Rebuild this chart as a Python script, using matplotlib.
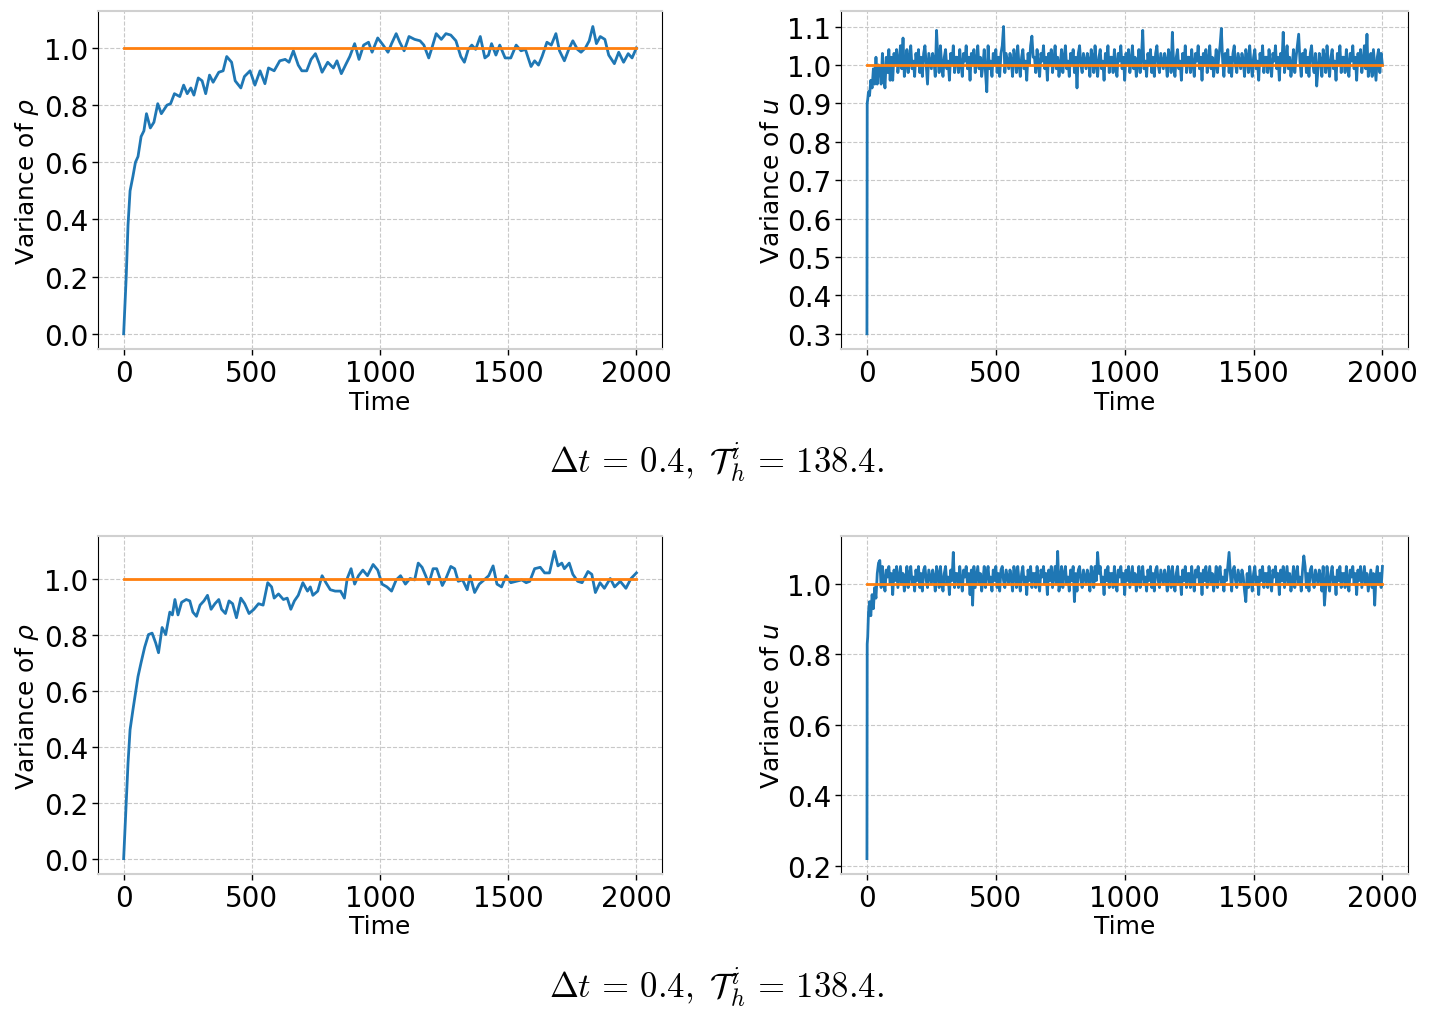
import numpy as np
import matplotlib
matplotlib.use("Agg")
import matplotlib.pyplot as plt

# --- top row: variance of rho ---
rho1_t = [0, 10, 17, 25, 36, 46, 56, 68, 79, 89, 104, 118, 133, 147, 169, 183, 198,
          219, 234, 248, 262, 274, 291, 306, 320, 335, 349, 371, 388, 402, 421, 435,
          457, 471, 493, 512, 532, 551, 565, 587, 609, 630, 645, 662, 681, 695, 714,
          731, 748, 763, 774, 796, 818, 832, 849, 868, 882, 901, 918, 936, 955, 969,
          991, 1012, 1031, 1045, 1063, 1077, 1094, 1113, 1135, 1156, 1171, 1190,
          1204, 1219, 1239, 1257, 1276, 1296, 1315, 1329, 1344, 1358, 1373, 1391,
          1409, 1423, 1435, 1452, 1467, 1488, 1510, 1531, 1550, 1567, 1589, 1603,
          1618, 1632, 1651, 1668, 1686, 1700, 1719, 1736, 1752, 1770, 1784, 1801,
          1816, 1830, 1844, 1859, 1877, 1892, 1914, 1931, 1950, 1968, 1983, 2000]
rho1_v = [0.0, 0.20, 0.38, 0.50, 0.55, 0.60, 0.62, 0.69, 0.71, 0.77, 0.72, 0.74, 0.805,
          0.77, 0.80, 0.805, 0.84, 0.83, 0.87, 0.84, 0.86, 0.835, 0.895, 0.885, 0.84,
          0.905, 0.88, 0.915, 0.92, 0.97, 0.95, 0.885, 0.86, 0.90, 0.92, 0.87, 0.92,
          0.875, 0.93, 0.92, 0.955, 0.96, 0.95, 0.99, 0.94, 0.92, 0.92, 0.96, 0.98,
          0.945, 0.915, 0.95, 0.93, 0.955, 0.91, 0.945, 0.97, 1.015, 0.96, 1.01, 1.02,
          0.985, 1.035, 1.01, 0.985, 1.015, 1.05, 1.02, 0.99, 1.04, 1.03, 1.025, 1.01,
          0.965, 1.005, 1.05, 1.03, 1.05, 1.045, 1.025, 0.97, 0.95, 0.995, 1.01, 0.995,
          1.04, 0.965, 0.975, 1.015, 0.975, 1.01, 0.965, 0.965, 1.01, 0.99, 0.995,
          0.935, 0.955, 0.94, 0.97, 1.02, 1.01, 1.05, 0.99, 0.955, 0.995, 1.025, 0.995,
          0.985, 1.0, 1.025, 1.075, 1.015, 1.04, 1.03, 0.975, 0.945, 0.985, 0.95, 0.98,
          0.965, 1.0]

# --- top row: variance of u (first 50 time units, then every 5) ---
u1_early_t = [0, 1, 3, 6, 10, 15, 20, 25, 30, 35, 40, 45]
u1_early_v = [0.30, 0.90, 0.91, 0.93, 0.92, 0.96, 0.94, 0.99, 0.95, 1.02, 0.95, 1.00]
u1_v = [
    0.99, 0.95, 1.03, 0.97, 0.94, 1.02, 0.98, 1.04, 0.96, 1.02, 0.96, 1.03, 1.00, 1.04, 0.98, 1.01, 1.05, 0.99, 1.07, 0.97,
    1.00, 1.04, 0.98, 1.02, 1.05, 0.99, 1.01, 0.97, 1.03, 1.00, 1.04, 0.98, 1.02, 0.97, 1.03, 1.05, 1.00, 0.95, 1.03, 1.01,
    0.99, 1.03, 1.01, 0.97, 1.09, 1.02, 0.98, 1.05, 1.00, 0.97, 1.02, 1.04, 0.99, 1.01, 0.96, 1.03, 1.00, 1.05, 0.98, 1.02,
    1.02, 0.98, 1.04, 1.00, 0.97, 1.03, 1.01, 1.05, 0.99, 1.02, 0.96, 1.03, 1.00, 1.04, 0.98, 1.01, 1.05, 0.99, 1.02, 0.97,
    1.00, 1.04, 0.98, 0.93, 1.05, 0.99, 1.01, 0.97, 1.03, 1.00, 1.04, 0.98, 1.02, 0.97, 1.03, 1.05, 1.10, 0.98, 1.03, 1.01,
    0.99, 1.03, 1.01, 0.97, 1.04, 1.02, 0.98, 1.05, 1.00, 0.97, 1.02, 1.04, 0.99, 1.01, 0.96, 1.03, 1.00, 1.05, 1.075, 1.02,
    1.02, 0.98, 1.04, 1.00, 0.97, 1.03, 1.01, 1.05, 0.99, 1.02, 0.96, 1.03, 1.00, 1.04, 0.98, 1.01, 1.05, 0.99, 1.02, 0.97,
    1.00, 1.04, 0.98, 1.02, 1.05, 0.99, 1.01, 0.97, 1.03, 1.00, 1.04, 0.98, 1.02, 0.94, 1.03, 1.05, 1.00, 0.98, 1.03, 1.01,
    0.99, 1.03, 1.01, 0.97, 1.04, 1.02, 0.98, 1.05, 1.00, 0.97, 1.02, 1.04, 0.99, 1.01, 0.96, 1.03, 1.00, 1.05, 0.98, 1.02,
    1.02, 0.98, 1.04, 1.00, 0.97, 1.03, 1.01, 1.05, 0.99, 1.02, 0.96, 1.03, 1.00, 1.04, 0.98, 1.01, 1.05, 0.99, 1.02, 0.97,
    1.00, 1.04, 0.98, 1.02, 1.09, 0.99, 1.01, 0.97, 1.03, 1.00, 1.04, 0.98, 1.02, 0.97, 1.03, 1.05, 1.00, 0.98, 1.03, 1.01,
    0.99, 1.03, 1.01, 0.97, 1.04, 1.02, 0.98, 1.085, 1.00, 0.97, 1.02, 1.04, 0.99, 1.01, 0.96, 1.03, 1.00, 1.05, 0.98, 1.02,
    1.02, 0.98, 1.04, 1.00, 0.97, 1.03, 1.01, 1.05, 0.99, 1.02, 0.96, 1.03, 1.00, 1.04, 0.98, 1.01, 1.05, 0.99, 1.02, 0.97,
    1.00, 1.04, 0.98, 1.02, 1.05, 1.095, 1.01, 0.97, 1.03, 1.00, 1.04, 0.98, 1.02, 0.97, 1.03, 1.05, 1.00, 0.98, 1.03, 1.01,
    0.99, 1.03, 1.01, 0.97, 1.04, 1.02, 0.98, 1.05, 1.00, 0.97, 1.02, 1.04, 0.99, 1.01, 0.96, 1.03, 1.00, 1.05, 0.98, 1.02,
    1.02, 0.98, 1.04, 1.00, 0.97, 1.03, 1.01, 1.05, 0.99, 1.02, 0.96, 1.03, 1.00, 1.085, 0.98, 1.01, 1.05, 0.99, 1.02, 0.97,
    1.00, 1.04, 0.98, 1.02, 1.05, 1.08, 1.01, 0.97, 1.03, 1.00, 1.04, 0.98, 1.02, 0.97, 1.03, 1.05, 1.00, 0.98, 1.03, 0.945,
    0.99, 1.03, 1.01, 0.97, 1.04, 1.02, 0.98, 1.05, 1.00, 0.97, 1.02, 1.04, 0.99, 1.01, 0.96, 1.03, 1.00, 1.05, 0.98, 1.02,
    1.02, 0.98, 1.04, 1.00, 0.97, 1.03, 1.01, 1.05, 0.99, 1.02, 0.96, 1.03, 1.00, 1.04, 0.98, 1.01, 1.05, 0.99, 1.08, 0.97,
    0.99, 1.03, 0.97, 1.04, 1.00, 0.96, 1.02, 1.04, 0.98, 1.03, 1.00]

# --- bottom row: variance of rho ---
rho2_t = [0, 10, 17, 25, 36, 46, 56, 68, 82, 97, 111, 125, 136, 150, 164, 180, 190,
          200, 212, 226, 244, 258, 270, 284, 298, 313, 327, 341, 356, 371, 382, 397,
          411, 425, 440, 457, 472, 489, 508, 526, 544, 562, 577, 587, 604, 623, 638,
          652, 666, 681, 699, 717, 728, 738, 757, 774, 789, 806, 825, 846, 861, 872,
          887, 901, 916, 933, 951, 973, 991, 1008, 1027, 1045, 1063, 1080, 1099,
          1117, 1135, 1149, 1164, 1178, 1190, 1207, 1221, 1243, 1257, 1276, 1291,
          1305, 1322, 1340, 1351, 1369, 1387, 1406, 1424, 1441, 1456, 1474, 1492,
          1510, 1531, 1553, 1570, 1584, 1603, 1625, 1642, 1661, 1680, 1694, 1709,
          1719, 1738, 1752, 1771, 1788, 1811, 1826, 1840, 1858, 1875, 1898, 1915,
          1937, 1959, 1979, 2000]
rho2_v = [0.0, 0.20, 0.34, 0.46, 0.53, 0.59, 0.65, 0.70, 0.755, 0.80, 0.805, 0.77,
          0.735, 0.825, 0.80, 0.88, 0.87, 0.925, 0.87, 0.915, 0.925, 0.92, 0.88, 0.865,
          0.905, 0.92, 0.94, 0.89, 0.91, 0.925, 0.89, 0.875, 0.92, 0.91, 0.86, 0.93,
          0.91, 0.875, 0.89, 0.91, 0.905, 0.985, 0.97, 0.93, 0.945, 0.925, 0.93, 0.89,
          0.92, 0.94, 0.985, 0.955, 0.97, 0.94, 0.955, 1.01, 0.985, 0.96, 0.955, 0.955,
          0.93, 1.0, 1.035, 0.98, 1.01, 1.03, 1.01, 1.05, 1.03, 0.98, 0.97, 0.955,
          0.995, 1.01, 0.98, 1.0, 0.995, 1.055, 1.04, 1.01, 0.98, 1.035, 1.035, 0.975,
          1.0, 1.043, 1.035, 0.99, 0.995, 0.96, 1.01, 0.95, 0.98, 0.995, 1.01, 1.045,
          0.98, 0.97, 1.01, 0.985, 0.99, 0.995, 0.985, 0.99, 1.035, 1.04, 1.02, 1.02,
          1.097, 1.045, 1.055, 1.035, 1.055, 1.015, 0.99, 0.985, 1.025, 1.015, 0.95,
          0.985, 0.965, 1.0, 0.97, 0.99, 0.965, 1.0, 1.02]

# --- bottom row: variance of u (first 50 time units, then every 5) ---
u2_early_t = [0, 1, 3, 6, 10, 15, 20, 25, 30, 35, 40, 45]
u2_early_v = [0.22, 0.83, 0.85, 0.92, 0.95, 0.91, 0.97, 0.93, 0.99, 0.96, 1.03, 1.06]
u2_v = [
    1.067, 0.99, 1.05, 1.01, 0.98, 1.04, 1.02, 1.05, 1.00, 1.03, 0.97, 1.04, 1.01, 1.05, 0.99, 1.02, 1.05, 1.00, 1.03, 0.98,
    1.01, 1.05, 0.99, 1.03, 1.05, 1.00, 1.02, 0.98, 1.04, 1.01, 1.05, 0.99, 1.03, 0.98, 1.04, 1.05, 1.01, 0.99, 1.04, 1.02,
    1.00, 1.04, 1.02, 0.98, 1.05, 1.03, 0.99, 1.05, 1.01, 0.98, 1.03, 1.05, 1.00, 1.02, 0.97, 1.04, 1.01, 1.09, 0.99, 1.03,
    1.03, 0.99, 1.05, 1.01, 0.98, 1.04, 1.02, 1.05, 1.00, 1.03, 0.97, 1.04, 0.94, 1.05, 0.99, 1.02, 1.05, 1.00, 1.03, 0.98,
    1.01, 1.05, 0.99, 1.03, 1.05, 1.00, 1.02, 0.98, 1.04, 1.01, 1.05, 0.99, 1.03, 0.98, 1.04, 1.05, 1.01, 0.99, 1.04, 1.02,
    1.00, 1.04, 1.02, 0.98, 1.05, 1.03, 0.99, 1.05, 1.01, 0.98, 1.03, 1.05, 1.00, 1.02, 0.97, 1.04, 1.01, 1.05, 0.99, 1.03,
    1.03, 0.99, 1.05, 1.01, 0.98, 1.04, 1.02, 1.05, 1.00, 1.03, 0.97, 1.04, 1.01, 1.05, 0.99, 1.02, 1.05, 1.00, 1.093, 0.98,
    1.01, 1.05, 0.99, 1.03, 1.05, 1.00, 1.02, 0.98, 1.04, 1.01, 1.05, 0.95, 1.03, 0.98, 1.04, 1.05, 1.01, 0.99, 1.04, 1.02,
    1.00, 1.04, 1.02, 0.98, 1.05, 1.03, 0.99, 1.05, 1.01, 1.09, 1.03, 1.05, 1.00, 1.02, 0.97, 1.04, 1.01, 1.05, 0.99, 1.03,
    1.03, 0.99, 1.05, 1.01, 0.98, 1.04, 1.02, 1.05, 1.00, 1.03, 0.97, 1.04, 1.01, 1.05, 0.99, 1.02, 1.05, 1.00, 1.03, 0.98,
    1.01, 1.05, 0.99, 1.03, 1.05, 1.00, 1.02, 0.98, 1.04, 1.01, 1.05, 0.99, 1.03, 0.98, 1.04, 1.05, 1.01, 0.99, 1.04, 1.02,
    1.00, 1.04, 1.02, 0.98, 1.05, 1.03, 0.99, 1.05, 1.01, 0.98, 1.03, 1.05, 1.00, 1.02, 0.97, 1.04, 1.01, 1.05, 0.99, 1.03,
    1.03, 0.99, 1.05, 1.01, 0.98, 1.04, 1.02, 1.05, 1.00, 1.03, 0.97, 1.04, 1.01, 1.05, 0.99, 1.02, 1.05, 1.00, 1.03, 0.98,
    1.01, 1.05, 0.99, 1.03, 1.05, 1.00, 1.02, 0.98, 1.04, 1.01, 1.05, 1.09, 1.03, 0.98, 1.04, 1.05, 1.01, 0.99, 1.04, 1.02,
    1.00, 1.04, 1.02, 0.98, 0.95, 1.03, 0.99, 1.05, 1.01, 0.98, 1.03, 1.05, 1.00, 1.02, 0.97, 1.04, 1.01, 1.05, 0.99, 1.03,
    1.03, 0.99, 1.05, 1.01, 0.98, 1.04, 1.02, 1.05, 1.00, 1.03, 0.97, 1.04, 1.01, 1.05, 0.99, 1.02, 1.05, 1.00, 1.03, 0.98,
    1.01, 1.05, 0.99, 1.03, 1.05, 1.00, 1.02, 0.98, 1.04, 1.08, 1.05, 0.99, 1.03, 0.98, 1.04, 1.05, 1.01, 0.99, 1.04, 1.02,
    1.00, 1.04, 1.02, 0.98, 1.05, 0.94, 0.99, 1.05, 1.01, 0.98, 1.03, 1.05, 1.00, 1.02, 0.97, 1.04, 1.01, 1.05, 0.99, 1.03,
    1.03, 0.99, 1.05, 1.01, 0.98, 1.04, 1.02, 1.05, 1.00, 1.03, 0.97, 1.04, 1.01, 1.05, 0.99, 1.02, 1.05, 1.00, 1.03, 0.98,
    1.01, 1.04, 0.99, 1.03, 0.94, 1.02, 1.05, 1.00, 1.03, 0.99, 1.05]

u_grid_t = np.arange(50, 2001, 5)
t_end = 2000
target = 1.0

caption = r"$\Delta t\,=\,0.4,\ \mathcal{T}_h^i\,=\,138.4.$"

blue = "#1f77b4"
orange = "#ff7f0e"
grid_color = "#c8c8c8"
edge_light = "#d0d0d0"

plt.rcParams["font.family"] = "DejaVu Sans"

fig = plt.figure(figsize=(14.33, 10.12), dpi=100)

# axes boxes in figure fraction: left, bottom, width, height
boxes = [
    [0.0684, 0.654, 0.3936, 0.334],
    [0.587, 0.654, 0.3957, 0.334],
    [0.0684, 0.1354, 0.3936, 0.334],
    [0.587, 0.1354, 0.3957, 0.334],
]

panels = [
    (rho1_t, rho1_v, r"Variance of $\rho$", None),
    (list(u1_early_t) + list(u_grid_t), u1_early_v + u1_v, r"Variance of $u$",
     [0.3, 0.4, 0.5, 0.6, 0.7, 0.8, 0.9, 1.0, 1.1]),
    (rho2_t, rho2_v, r"Variance of $\rho$", [0.0, 0.2, 0.4, 0.6, 0.8, 1.0]),
    (list(u2_early_t) + list(u_grid_t), u2_early_v + u2_v, r"Variance of $u$", None),
]

for box, (tt, vv, ylab, yticks) in zip(boxes, panels):
    ax = fig.add_axes(box)
    ax.plot(tt, vv, color=blue, lw=2)
    ax.plot([0, t_end], [target, target], color=orange, lw=2)
    ax.set_xlabel("Time", fontsize=18, labelpad=2)
    ax.set_ylabel(ylab, fontsize=18, labelpad=2)
    ax.set_xticks([0, 500, 1000, 1500, 2000])
    if yticks is not None:
        ax.set_yticks(yticks)
        ax.set_yticklabels([f"{v:.1f}" for v in yticks])
    ax.tick_params(labelsize=20, length=4, width=1, pad=3)
    ax.grid(True, linestyle="--", color=grid_color, lw=0.8)
    ax.spines["top"].set_color(edge_light)
    ax.spines["bottom"].set_color(edge_light)
    ax.spines["top"].set_linewidth(1.5)
    ax.spines["bottom"].set_linewidth(1.5)

fig.text(0.4997, 0.5425, caption, ha="center", va="center", fontsize=25,
         math_fontfamily="cm")
fig.text(0.4997, 0.0237, caption, ha="center", va="center", fontsize=25,
         math_fontfamily="cm")

fig.savefig("out.png", dpi=100)
